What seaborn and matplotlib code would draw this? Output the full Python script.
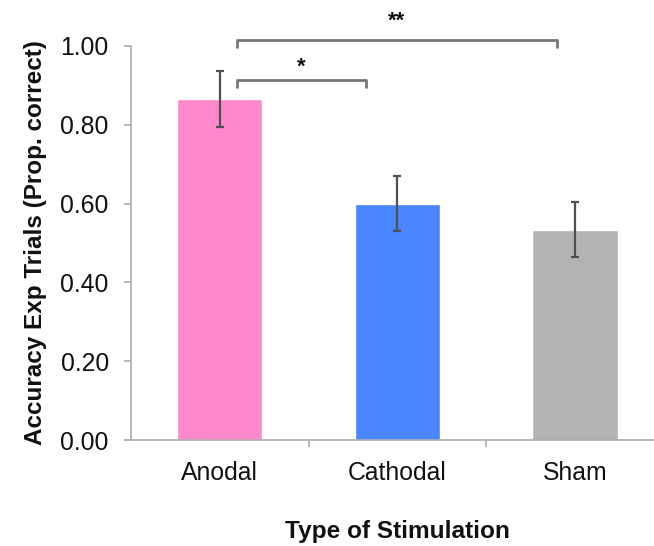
import matplotlib
matplotlib.use("Agg")
import matplotlib.pyplot as plt
import seaborn as sns
import pandas as pd

# Mean accuracy per stimulation condition with error (±)
conditions = ["Anodal", "Cathodal", "Sham"]
accuracy = [0.865, 0.600, 0.534]
error = [0.070, 0.070, 0.070]
bar_colors = ["#FF88CC", "#4A86FF", "#B3B3B3"]
y_ticks = [0.0, 0.2, 0.4, 0.6, 0.8, 1.0]

# Significance comparisons: (from index, to index, label)
comparisons = [(0, 1, "*"), (0, 2, "**")]

sns.set_theme(style="white")
plt.rcParams["font.family"] = ["Liberation Sans", "DejaVu Sans"]

df = pd.DataFrame({"condition": conditions, "accuracy": accuracy})

fig = plt.figure(figsize=(6.54, 5.46), dpi=100)
ax = fig.add_axes([0.2003, 0.194, 0.8147, 0.722])

sns.barplot(data=df, x="condition", y="accuracy", hue="condition",
            palette=bar_colors, width=0.48, errorbar=None, legend=False,
            saturation=1, ax=ax)

ax.errorbar(range(len(conditions)), accuracy, yerr=error, fmt="none",
            ecolor="#505050", elinewidth=1.6, capsize=3.2, capthick=1.6,
            zorder=5)

ax.set_xlim(-0.5, 2.5)
ax.set_ylim(0, 1.0)
ax.set_yticks(y_ticks)
ax.set_yticklabels([f"{v:.2f}" for v in y_ticks])

# Category labels on minor ticks, separator marks on major ticks
ax.set_xticks([0.5, 1.5])
ax.set_xticklabels([])
ax.set_xticks(range(len(conditions)), minor=True)
ax.set_xticklabels(conditions, minor=True)
ax.tick_params(axis="x", which="major", direction="out", length=5,
               width=1.2, color="#aaaaaa", bottom=True)
ax.tick_params(axis="x", which="minor", length=0, pad=15, labelsize=17.8,
               labelcolor="#111111")
ax.tick_params(axis="y", direction="out", length=5, width=1.2,
               color="#aaaaaa", left=True, pad=11, labelsize=17.8,
               labelcolor="#111111")

for side in ["top", "right"]:
    ax.spines[side].set_visible(False)
for side in ["left", "bottom"]:
    ax.spines[side].set_color("#aaaaaa")
    ax.spines[side].set_linewidth(1.2)

ax.set_xlabel("Type of Stimulation", fontsize=17.6, fontweight="bold",
              labelpad=25, color="#111111")
ax.set_ylabel("Accuracy Exp Trials (Prop. correct)", fontsize=17.5,
              fontweight="bold", labelpad=10, color="#111111")

# Significance brackets: (left x, right x, bracket y, label y)
bracket_specs = {(0, 1): (0.096, 0.825, 0.914, 0.947),
                 (0, 2): (0.096, 1.898, 1.015, 1.062)}
for i, j, label in comparisons:
    x0, x1, y, ty = bracket_specs[(i, j)]
    ax.plot([x0, x0, x1, x1], [y - 0.018, y, y, y - 0.018],
            color="#777777", lw=2, clip_on=False, zorder=6)
    ax.text((x0 + x1) / 2, ty, label, ha="center", va="center",
            fontsize=16, fontweight="bold", color="#111111", clip_on=False)

fig.savefig("out.png", dpi=100)
